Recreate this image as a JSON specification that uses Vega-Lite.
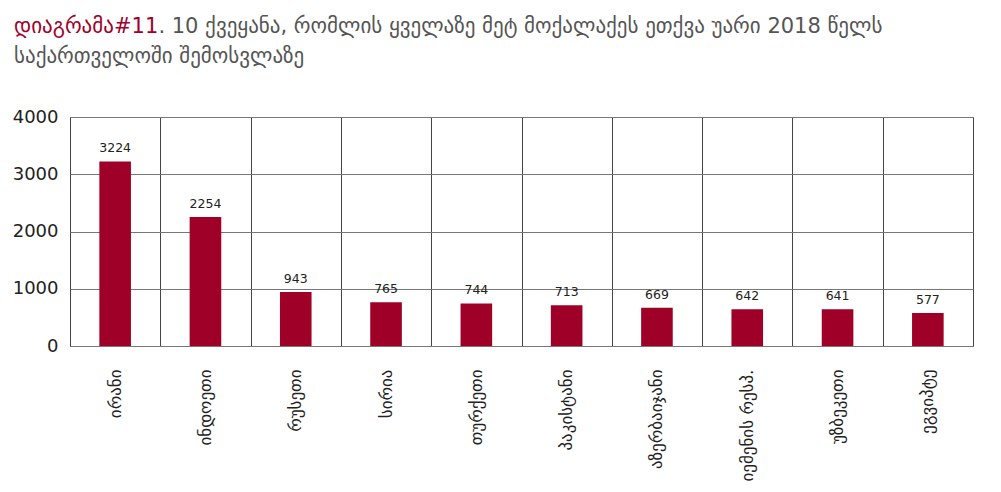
{
  "$schema": "https://vega.github.io/schema/vega-lite/v6.json",
  "autosize": {"type": "none"},
  "width": 903,
  "height": 229,
  "padding": {"left": 70, "top": 117, "right": 28, "bottom": 146},
  "background": "white",
  "title": {
    "text": "დიაგრამა#11",
    "subtitle": [
      "\u200b\u00a0\u00a0\u00a0\u00a0\u00a0\u00a0\u00a0\u00a0\u00a0\u00a0\u00a0\u00a0\u00a0\u00a0\u00a0\u00a0\u00a0\u00a0\u00a0\u00a0\u00a0\u2009. 10 ქვეყანა, რომლის ყველაზე მეტ მოქალაქეს ეთქვა უარი 2018 წელს",
      "საქართველოში შემოსვლაზე"
    ],
    "anchor": "start",
    "frame": "group",
    "dx": -56,
    "offset": 41,
    "font": "DejaVu Sans",
    "fontSize": 21,
    "fontWeight": "normal",
    "color": "#a0002a",
    "subtitleFont": "DejaVu Sans",
    "subtitleFontSize": 21,
    "subtitleColor": "#555555",
    "subtitleLineHeight": 30,
    "subtitlePadding": -21
  },
  "data": {
    "values": [
      {"country": "ირანი", "refusals": 3224},
      {"country": "ინდოეთი", "refusals": 2254},
      {"country": "რუსეთი", "refusals": 943},
      {"country": "სირია", "refusals": 765},
      {"country": "თურქეთი", "refusals": 744},
      {"country": "პაკისტანი", "refusals": 713},
      {"country": "აზერბაიჯანი", "refusals": 669},
      {"country": "იემენის რესპ.", "refusals": 642},
      {"country": "უზბეკეთი", "refusals": 641},
      {"country": "ეგვიპტე", "refusals": 577}
    ]
  },
  "encoding": {
    "x": {
      "field": "country",
      "type": "nominal",
      "sort": null,
      "title": null,
      "scale": {"paddingInner": 0, "paddingOuter": 0},
      "axis": {
        "labelAngle": -90,
        "labelFontSize": 17,
        "labelColor": "#222222",
        "labelPadding": 23,
        "ticks": false,
        "domain": false,
        "grid": true,
        "tickBand": "extent",
        "gridColor": "#444444",
        "gridOpacity": 1
      }
    },
    "y": {
      "field": "refusals",
      "type": "quantitative",
      "title": null,
      "scale": {"domain": [0, 4000]},
      "axis": {
        "values": [0, 1000, 2000, 3000, 4000],
        "format": "d",
        "labelFontSize": 18,
        "labelColor": "#222222",
        "labelPadding": 12,
        "ticks": false,
        "domain": false,
        "gridColor": "#777777",
        "gridOpacity": 1
      }
    }
  },
  "layer": [
    {"mark": {"type": "bar", "color": "#9e0028", "width": {"band": 0.35}}},
    {
      "mark": {"type": "text", "baseline": "bottom", "dy": -6, "fontSize": 12.5, "color": "#222222", "font": "DejaVu Sans"},
      "encoding": {"text": {"field": "refusals", "type": "quantitative", "format": "d"}}
    }
  ],
  "config": {
    "font": "DejaVu Sans",
    "view": {"stroke": "#777777", "strokeWidth": 1}
  }
}
